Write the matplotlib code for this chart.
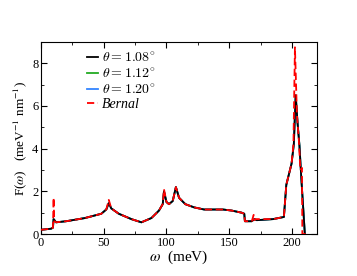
import numpy as np
import matplotlib.pyplot as plt
from matplotlib.ticker import MultipleLocator

plt.rcParams['font.family'] = 'serif'
plt.rcParams['font.serif'] = ['Liberation Serif', 'DejaVu Serif']
plt.rcParams['mathtext.fontset'] = 'stix'

# phonon density of states
omega = [0, 8, 9.5, 10, 12, 20, 35, 48, 52, 54, 56, 62, 72, 80, 88, 94, 97,
         98, 100, 102, 105, 107.5, 110, 115, 122, 130, 145, 152, 160, 162,
         162.5, 168, 170, 172, 185, 193.6, 195.5, 199.7, 201.5, 203, 204.5,
         206, 207.5, 210.3]
f_108 = [0.2, 0.25, 0.3, 0.7, 0.55, 0.6, 0.75, 0.95, 1.15, 1.45, 1.2, 0.95,
         0.7, 0.55, 0.75, 1.1, 1.4, 2.0, 1.5, 1.4, 1.55, 2.2, 1.7, 1.4, 1.25,
         1.15, 1.15, 1.1, 1.0, 0.95, 0.6, 0.6, 0.7, 0.65, 0.7, 0.8, 2.3, 3.3,
         4.2, 6.5, 5.2, 4.15, 2.6, 0.0]
f_112 = f_108
f_120 = f_108

omega_b = [0, 8, 9.5, 10, 10.5, 12, 20, 35, 48, 52, 54, 56, 62, 72, 80, 88,
           94, 97, 98, 100, 102, 105, 107.5, 110, 115, 122, 130, 145, 152, 160,
           162, 162.5, 168, 169.5, 170, 171, 185, 193.6, 195.5, 199.7, 201.2,
           202.4, 204, 205.5, 206.7, 208, 208.3, 211]
f_bernal = [0.2, 0.25, 0.3, 1.7, 0.6, 0.55, 0.6, 0.75, 0.95, 1.15, 1.6, 1.2,
            0.95, 0.7, 0.55, 0.75, 1.1, 1.4, 2.1, 1.5, 1.4, 1.55, 2.2, 1.7,
            1.4, 1.25, 1.15, 1.15, 1.1, 1.0, 0.95, 0.6, 0.6, 0.9, 0.65, 0.7,
            0.7, 0.8, 2.3, 3.3, 4.2, 8.75, 5.6, 4.4, 3.0, 3.1, 0.0, 0.0]

fig = plt.figure(figsize=(3.57, 2.76), dpi=100)
ax = fig.add_axes([0.115, 0.152, 0.773, 0.696])

ax.plot(omega, f_112, color='#22aa22', lw=1.3, label=r'$\theta = 1.12^{\circ}$', zorder=2)
ax.plot(omega, f_120, color='#3385ff', lw=1.3, label=r'$\theta = 1.20^{\circ}$', zorder=2)
ax.plot(omega, f_108, color='black', lw=1.3, label=r'$\theta = 1.08^{\circ}$', zorder=3)
ax.plot(omega_b, f_bernal, color='red', lw=1.3, ls=(0, (4, 2)), label='Bernal', zorder=4)

ax.set_xlim(0, 220)
ax.set_ylim(0, 9)
ax.xaxis.set_major_locator(MultipleLocator(50))
ax.xaxis.set_minor_locator(MultipleLocator(25))
ax.yaxis.set_major_locator(MultipleLocator(2))
ax.yaxis.set_minor_locator(MultipleLocator(1))
ax.tick_params(which='both', direction='in', top=True, right=True, labelsize=9)
ax.tick_params(which='major', length=4, pad=2)
ax.tick_params(which='minor', length=2)

ax.set_xlabel(r'$\omega$  (meV)', fontsize=11, labelpad=0)
ax.set_ylabel(r'F($\omega$)   (meV$^{-1}$ nm$^{-1}$)', fontsize=9.5, labelpad=2)

h, l = ax.get_legend_handles_labels()
order = [2, 0, 1, 3]
leg = ax.legend([h[i] for i in order], [l[i] for i in order], loc='upper left',
                bbox_to_anchor=(0.12, 1.02), frameon=False,
                prop=dict(size=10, math_fontfamily='cm'),
                handlelength=0.8, handletextpad=0.3, labelspacing=0.12)
leg.get_texts()[3].set_style('italic')

fig.savefig('out.png', dpi=100)
